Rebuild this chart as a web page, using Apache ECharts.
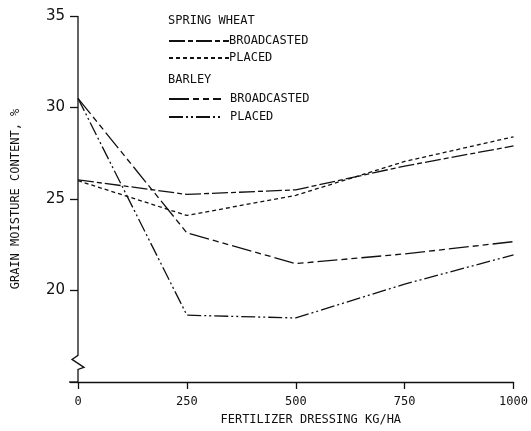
<!DOCTYPE html>
<html>
<head>
<meta charset="utf-8">
<script src="https://cdn.jsdelivr.net/npm/echarts@6/dist/echarts.min.js"></script>
<style>html,body{margin:0;padding:0;background:#fff;}#c{width:531px;height:431px;}</style>
</head>
<body>
<div id="c"></div>
<script>
const xValues = [0, 250, 500, 750, 1000];
const xTicks = ['0', '250', '500', '750', '1000'];
const yTicks = [20, 25, 30, 35];
const springWheatBroadcasted = [26.05, 25.25, 25.5, 26.8, 27.9];
const springWheatPlaced = [26.0, 24.1, 25.2, 27.05, 28.4];
const barleyBroadcasted = [30.5, 23.15, 21.47, 22.0, 22.67];
const barleyPlaced = [30.5, 18.65, 18.5, 20.35, 21.95];

const MONO = "'DejaVu Sans Mono', monospace";
const INK = '#111';

function pairs(vals) { return xValues.map((x, i) => [x, vals[i]]); }

const seriesDefs = [
  {name: 'SW BROADCASTED', data: springWheatBroadcasted, dash: [16, 3, 5, 3]},
  {name: 'SW PLACED', data: springWheatPlaced, dash: [4, 3]},
  {name: 'BARLEY BROADCASTED', data: barleyBroadcasted, dash: [20, 4, 6, 4, 6, 4]},
  {name: 'BARLEY PLACED', data: barleyPlaced, dash: [14, 3, 2, 3, 2, 3]}
];

const chart = echarts.init(document.getElementById('c'), null, {renderer: 'canvas'});

const legendCommon = {
  orient: 'vertical', left: 168, padding: 0, itemHeight: 10, selectedMode: false,
  itemStyle: {opacity: 0}
};

const option = {
  animation: false,
  backgroundColor: '#fff',
  grid: {left: 78, right: 15, top: 16, bottom: 48},
  xAxis: {
    type: 'value', min: 0, max: 1000, interval: 250,
    axisLine: {show: true, lineStyle: {color: INK, width: 1.3}},
    axisTick: {show: true, length: 7, lineStyle: {color: INK, width: 1.3}},
    splitLine: {show: false},
    axisLabel: {margin: 14, color: INK, fontFamily: MONO, fontSize: 12,
      formatter: v => xTicks[xValues.indexOf(v)] ?? ''},
    name: 'FERTILIZER DRESSING KG/HA', nameLocation: 'middle', nameGap: 32,
    nameTextStyle: {color: INK, fontFamily: MONO, fontSize: 12, padding: [0, 0, 0, 30]}
  },
  yAxis: {
    type: 'value', min: 15, max: 35, interval: 5,
    axisLine: {show: false},
    axisTick: {show: true, length: 8, lineStyle: {color: INK, width: 1.3}},
    splitLine: {show: false},
    axisLabel: {margin: 13, color: INK, fontFamily: "'DejaVu Sans', sans-serif", fontSize: 15,
      formatter: v => yTicks.includes(v) ? String(v) : ''},
    name: 'GRAIN MOISTURE CONTENT, %', nameLocation: 'middle', nameGap: 56, nameRotate: 90,
    nameTextStyle: {color: INK, fontFamily: MONO, fontSize: 12, padding: [0, 0, 0, 0]}
  },
  legend: [
    Object.assign({}, legendCommon, {top: 35, itemWidth: 60, itemGap: 5,
     data: ['SW BROADCASTED', 'SW PLACED'],
     formatter: n => n.replace('SW ', ''),
     textStyle: {color: INK, fontFamily: MONO, fontSize: 12, padding: [0, 0, 0, -5]}}),
    Object.assign({}, legendCommon, {top: 93, itemWidth: 52, itemGap: 6,
     data: ['BARLEY BROADCASTED', 'BARLEY PLACED'],
     formatter: n => n.replace('BARLEY ', ''),
     textStyle: {color: INK, fontFamily: MONO, fontSize: 12, padding: [0, 0, 0, 4]}})
  ],
  series: seriesDefs.map(s => ({
    name: s.name, type: 'line', data: pairs(s.data), symbol: 'none',
    lineStyle: {color: INK, width: 1.3, type: s.dash},
    itemStyle: {color: INK}
  }))
};
chart.setOption(option);

// y axis line with break mark, positioned via the axis scale
const pTop = chart.convertToPixel({gridIndex: 0}, [0, 35]);
const pBot = chart.convertToPixel({gridIndex: 0}, [0, 15]);
const pBrk = chart.convertToPixel({gridIndex: 0}, [0, 16.4]);
const x0 = pTop[0];
chart.setOption({
  graphic: [
    {type: 'polyline', silent: true,
     shape: {points: [[x0, pTop[1]], [x0, pBrk[1] - 1], [x0 - 6, pBrk[1] + 3], [x0 + 6, pBrk[1] + 11], [x0, pBrk[1] + 13], [x0, pBot[1]]]},
     style: {stroke: INK, lineWidth: 1.3, fill: null}},
    {type: 'line', silent: true,
     shape: {x1: x0 - 9, y1: pBot[1], x2: x0, y2: pBot[1]},
     style: {stroke: INK, lineWidth: 1.3}},
    {type: 'text', silent: true, left: 168, top: 15,
     style: {text: 'SPRING WHEAT', fill: INK, font: "12px 'DejaVu Sans Mono'"}},
    {type: 'text', silent: true, left: 168, top: 74,
     style: {text: 'BARLEY', fill: INK, font: "12px 'DejaVu Sans Mono'"}}
  ]
});
</script>
</body>
</html>
